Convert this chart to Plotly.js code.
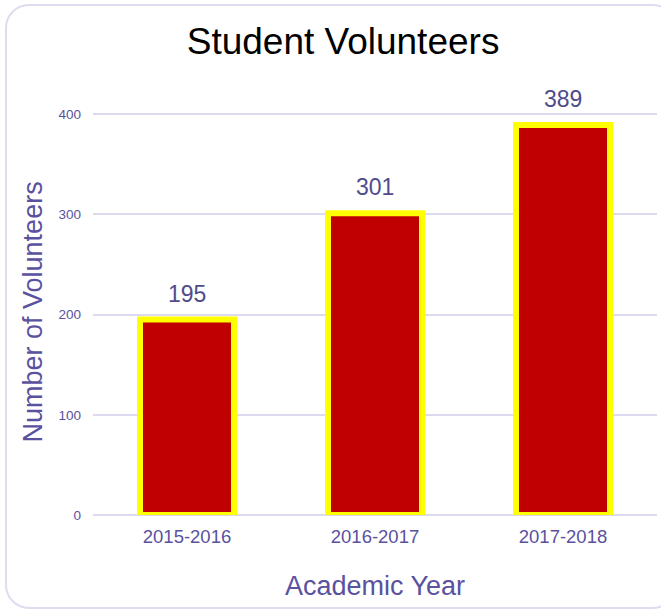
<!DOCTYPE html>
<html>
<head>
<meta charset="utf-8">
<script src="https://cdn.plot.ly/plotly-3.0.1.min.js"></script>
<style>
  html, body { margin: 0; padding: 0; width: 661px; height: 611px; overflow: hidden; background: #ffffff; }
  #frame { position: absolute; left: 5px; top: 4px; width: 672px; height: 605px; border: 2px solid #dedcf0; border-radius: 24px; box-sizing: border-box; }
  #chart { position: absolute; left: 0; top: 0; width: 661px; height: 611px; }
</style>
</head>
<body>
<div id="frame"></div>
<div id="chart"></div>
<script>
const categories = ["2015-2016", "2016-2017", "2017-2018"];
const volunteers = [195, 301, 389];
const yTicks = [0, 100, 200, 300, 400];

const axisColor = "#5a519f";
const gridColor = "#dcdaee";
const fontFamily = "Liberation Sans, Arial, sans-serif";

const trace = {
  type: "bar",
  x: categories,
  y: volunteers,
  marker: { color: "#c00000", line: { color: "#ffff00", width: 6 } },
  hoverinfo: "skip"
};

const annotations = categories.map((c, i) => ({
  x: c, y: volunteers[i], xref: "x", yref: "y",
  text: String(volunteers[i]), showarrow: false,
  yanchor: "middle", yshift: 26,
  font: { family: fontFamily, size: 23, color: "#4f4b8c" }
}));

annotations.push({
  text: "Number of Volunteers",
  xref: "paper", yref: "paper",
  x: -0.106, y: 0.466, xanchor: "center", yanchor: "middle",
  textangle: -90, showarrow: false,
  font: { family: fontFamily, size: 27, color: axisColor }
});

const layout = {
  width: 661, height: 611,
  margin: { l: 93, r: 4, t: 80, b: 96 },
  paper_bgcolor: "rgba(0,0,0,0)",
  plot_bgcolor: "rgba(0,0,0,0)",
  bargap: 0.5,
  showlegend: false,
  title: {
    text: "Student Volunteers",
    x: 0.519, xanchor: "center", y: 0.932, yanchor: "middle",
    font: { family: fontFamily, size: 37, color: "#000000" }
  },
  xaxis: {
    type: "category",
    tickfont: { family: fontFamily, size: 18.5, color: axisColor },
    showgrid: false, showline: false, zeroline: false,
    ticks: "", ticklabelstandoff: 8,
    title: { text: "Academic Year", standoff: 30,
      font: { family: fontFamily, size: 27, color: axisColor } }
  },
  yaxis: {
    range: [0, 434],
    tickvals: yTicks,
    tickfont: { family: fontFamily, size: 13.5, color: axisColor },
    showgrid: true, gridcolor: gridColor, gridwidth: 2,
    zeroline: true, zerolinecolor: gridColor, zerolinewidth: 2,
    showline: false, ticks: "", ticklabelstandoff: 11
  },
  annotations: annotations
};

Plotly.newPlot("chart", [trace], layout, { displayModeBar: false, staticPlot: true });
</script>
</body>
</html>
